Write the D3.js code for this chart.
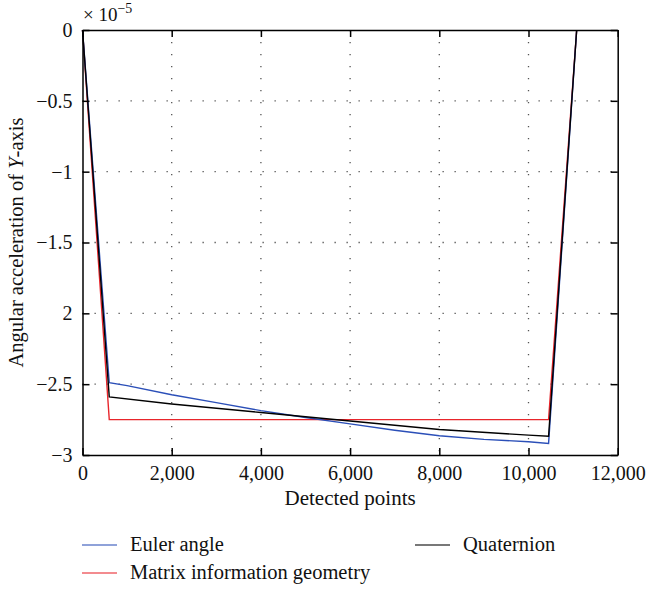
<!DOCTYPE html>
<html><head><meta charset="utf-8">
<script src="https://cdn.jsdelivr.net/npm/d3@7"></script>
<style>body{margin:0;background:#fff}svg{display:block}svg text{font-family:'Liberation Serif','Times New Roman','DejaVu Serif',serif !important}</style>
</head><body><svg id="c" width="648" height="590"></svg>
<script>
const xTicks=[0,2000,4000,6000,8000,10000,12000];
const xTickLabels=["0","2,000","4,000","6,000","8,000","10,000","12,000"];
const yTicks=[0,-0.5,-1,-1.5,-2,-2.5,-3];
const yTickLabels=["0","\u22120.5","\u22121","\u22121.5","2","\u22122.5","\u22123"];
const eulerX=[0,600,1000,2000,3000,4000,5000,6000,7000,8000,9000,10000,10450,11080];
const eulerY=[0,-2.49,-2.51,-2.575,-2.63,-2.687,-2.735,-2.78,-2.825,-2.864,-2.89,-2.906,-2.918,0];
const matrixX=[0,600,10450,11080];
const matrixY=[0,-2.75,-2.75,0];
const quatX=[0,600,2000,4000,6000,8000,10000,10450,11080];
const quatY=[0,-2.59,-2.64,-2.70,-2.76,-2.82,-2.86,-2.868,0];
const seriesNames=["Euler angle","Matrix information geometry","Quaternion"];
const colors=["#2b4fb8","#e8252b","#000000"];

const svg=d3.select("#c");
const L=82.5,R=617.7,T=30,B=455;
const x=d3.scaleLinear().domain([0,12000]).range([L,R]);
const y=d3.scaleLinear().domain([-3,0]).range([B,T]);

const g=svg.append("g");
g.selectAll(".gx").data(xTicks.slice(1,-1)).enter().append("line")
 .attr("x1",d=>x(d)).attr("x2",d=>x(d)).attr("y1",T).attr("y2",B)
 .attr("stroke","#555").attr("stroke-width",1.3).attr("stroke-dasharray","1.3,10.7");
g.selectAll(".gy").data(yTicks.slice(1,-1)).enter().append("line")
 .attr("y1",d=>y(d)).attr("y2",d=>y(d)).attr("x1",L).attr("x2",R)
 .attr("stroke","#555").attr("stroke-width",1.3).attr("stroke-dasharray","1.3,10.7");

const line=d3.line().x(d=>x(d[0])).y(d=>y(d[1]));
const data=[d3.zip(eulerX,eulerY),d3.zip(matrixX,matrixY),d3.zip(quatX,quatY)];
const order=[1,0,2];
svg.append("g").selectAll("path").data(order).enter().append("path")
 .attr("d",i=>line(data[i])).attr("fill","none").attr("stroke",i=>colors[i]).attr("stroke-width",1.4);

const fs="20px";
const xb=svg.append("g").attr("transform",`translate(0,${B})`).call(d3.axisBottom(x).tickValues(xTicks).tickFormat((d,i)=>xTickLabels[i]).tickSizeInner(-7).tickSizeOuter(0).tickPadding(11));
const xt=svg.append("g").attr("transform",`translate(0,${T})`).call(d3.axisTop(x).tickValues(xTicks).tickFormat("").tickSizeInner(-7).tickSizeOuter(0));
const yl=svg.append("g").attr("transform",`translate(${L},0)`).call(d3.axisLeft(y).tickValues(yTicks).tickFormat((d,i)=>yTickLabels[i]).tickSizeInner(-7).tickSizeOuter(0).tickPadding(10));
const yr=svg.append("g").attr("transform",`translate(${R},0)`).call(d3.axisRight(y).tickValues(yTicks).tickFormat("").tickSizeInner(-7).tickSizeOuter(0));
[xb,xt,yl,yr].forEach(a=>{a.attr("font-family",null);a.selectAll("path,line").attr("stroke","#000").attr("stroke-width",1.5);a.selectAll("text").attr("font-size",fs).attr("fill","#111");});

const ex=svg.append("text").attr("x",83).attr("y",21).attr("font-size","19px").attr("fill","#111");
ex.append("tspan").text("\u00d7 10");
ex.append("tspan").attr("dy",-8).attr("font-size","14px").text("\u22125");

svg.append("text").attr("x",(L+R)/2).attr("y",505).attr("text-anchor","middle").attr("font-size","21px").attr("fill","#111").text("Detected points");
const yt=svg.append("text").attr("transform",`translate(23,${(T+B)/2}) rotate(-90)`).attr("text-anchor","middle").attr("font-size","20.5px").attr("fill","#111");
yt.append("tspan").text("Angular acceleration of ");
yt.append("tspan").attr("font-style","italic").text("Y");
yt.append("tspan").text("-axis");

const leg=[{i:0,lx:82,ly:545},{i:2,lx:415,ly:545},{i:1,lx:82,ly:573}];
const lg=svg.append("g").selectAll("g").data(leg).enter().append("g");
lg.append("line").attr("x1",d=>d.lx).attr("x2",d=>d.lx+35).attr("y1",d=>d.ly).attr("y2",d=>d.ly).attr("stroke",d=>colors[d.i]).attr("stroke-width",1.4).attr("opacity",0.7);
lg.append("text").attr("x",d=>d.lx+48).attr("y",d=>d.ly+6).attr("font-size","20.5px").attr("fill","#111").text(d=>seriesNames[d.i]);
</script></body></html>
